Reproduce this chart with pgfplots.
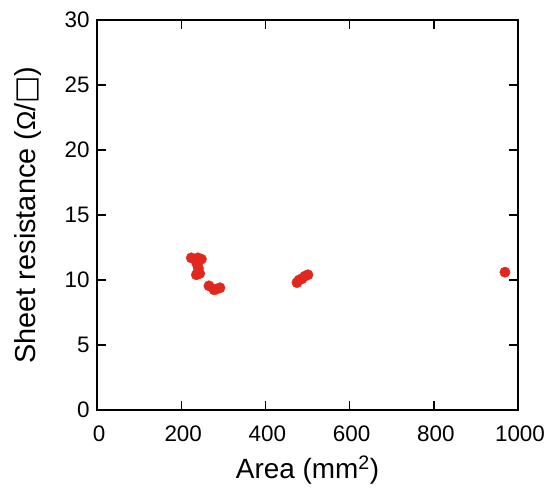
\documentclass[border=0pt]{standalone}
\usepackage{pgfplots}
\pgfplotsset{compat=1.18}
\usepackage{fontspec}
\setmainfont{Liberation Sans}
\newfontfamily\dejavu{DejaVu Sans}
\definecolor{dotred}{RGB}{224,40,30}

\begin{document}
\begin{tikzpicture}
\begin{axis}[
    scale only axis,
    width=421bp, height=390bp,
    xmin=0, xmax=1000,
    ymin=0, ymax=30,
    xtick={0,200,...,1000},
    ytick={0,5,...,30},
    tick align=inside,
    major tick length=9bp,
    axis line style={line width=1.6pt},
    every tick/.style={line width=1.4pt, black},
    tick label style={font=\fontsize{22.5}{24}\selectfont},
    /pgf/number format/assume math mode=true,
    /pgf/number format/1000 sep={},
    xticklabel style={yshift=-12bp, xshift=2bp},
    yticklabel style={xshift=-4bp},
    label style={font=\fontsize{28}{31}\selectfont},
    xlabel={Area (mm\textsuperscript{2})},
    ylabel={Sheet resistance ({\fontsize{26}{29}\selectfont Ω}/{\dejavu □})},
    xlabel style={at={(axis description cs:0.5,-0.155)}, anchor=center},
    ylabel style={at={(axis description cs:-0.165,0.5)}, anchor=center,
        font=\fontsize{29}{32}\selectfont},
]
\addplot[only marks, mark=*, mark size=5.2bp, color=dotred] coordinates {
    (224,11.7) (232,11.6) (240,11.7) (248,11.6)
    (238,11.2) (241,10.9) (240,10.6) (244,10.5) (236,10.4)
    (266,9.55) (278,9.25) (284,9.3) (292,9.4)
    (475,9.8) (480,10.0) (487,10.1) (494,10.3) (501,10.4)
    (969,10.6)
};
\end{axis}
% keep the page margins of the reference
\path (current axis.south west) ++(-97bp,-85bp) coordinate (bbsw);
\path (current axis.north east) ++(33bp,20bp) coordinate (bbne);
\path (bbsw) rectangle (bbne);
\end{tikzpicture}
\end{document}
